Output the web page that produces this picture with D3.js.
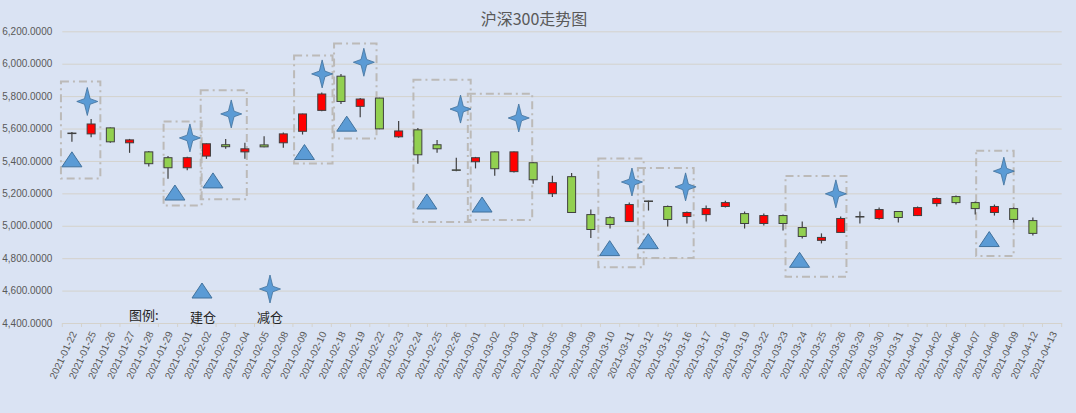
<!DOCTYPE html>
<html><head><meta charset="utf-8">
<script src="https://cdn.jsdelivr.net/npm/d3@7"></script>
<style>html,body{margin:0;padding:0;background:#DAE3F3;}svg{display:block;}</style>
</head><body>
<script>
const dates = ["2021-01-22","2021-01-25","2021-01-26","2021-01-27","2021-01-28","2021-01-29","2021-02-01","2021-02-02","2021-02-03","2021-02-04","2021-02-05","2021-02-08","2021-02-09","2021-02-10","2021-02-18","2021-02-19","2021-02-22","2021-02-23","2021-02-24","2021-02-25","2021-02-26","2021-03-01","2021-03-02","2021-03-03","2021-03-04","2021-03-05","2021-03-08","2021-03-09","2021-03-10","2021-03-11","2021-03-12","2021-03-15","2021-03-16","2021-03-17","2021-03-18","2021-03-19","2021-03-22","2021-03-23","2021-03-24","2021-03-25","2021-03-26","2021-03-29","2021-03-30","2021-03-31","2021-04-01","2021-04-02","2021-04-06","2021-04-07","2021-04-08","2021-04-09","2021-04-12","2021-04-13"];
const openV  = [5572,5567,5604,5512,5456,5420,5358,5430,5500,5456,5499,5512,5583,5712,5923,5737,5788,5549,5592,5500,5345,5395,5456,5334,5389,5198,5303,5069,5050,5026,5153,5119,5057,5069,5119,5075,5014,5063,4989,4910,4959,5057,5045,5088,5063,5137,5180,5143,5082,5106,5032,null];
const closeV = [5570,5628,5518,5530,5383,5358,5420,5506,5488,5475,5487,5567,5690,5813,5767,5782,5598,5585,5438,5475,5343,5420,5352,5456,5284,5266,5082,4977,5008,5131,5151,5039,5082,5106,5143,5014,5063,5014,4934,4928,5045,5056,5100,5051,5112,5168,5143,5106,5119,5039,4953,null];
const highV  = [5579,5659,5606,5536,5462,5430,5426,5508,5536,5512,5552,5575,5692,5823,5936,5788,5790,5647,5604,5530,5420,5425,5458,5458,5392,5309,5325,5100,5058,5143,5155,5125,5088,5125,5155,5088,5075,5069,5026,4953,5057,5088,5112,5090,5119,5174,5186,5149,5131,5112,5051,null];
const lowV   = [5518,5546,5512,5450,5366,5290,5343,5413,5475,5414,5484,5481,5563,5706,5752,5669,5596,5543,5383,5450,5336,5354,5309,5328,5260,5177,5080,4924,4983,5024,5094,4996,5014,5026,5113,4983,5002,4971,4922,4891,4957,5014,5037,5020,5060,5119,5131,5069,5063,5020,4940,null];

// 建仓 markers (position along category index, value)
const buyPos = [0,5.36,7.34,12.1,14.3,18.47,21.34,27.98,29.99,37.86,47.73];
const buyVal = [5410,5205,5280,5455,5630,5150,5131,4862,4905,4790,4918];
// 减仓 markers
const sellPos = [0.80,6.14,8.29,13.02,15.19,20.22,23.25,29.14,31.93,39.75,48.49];
const sellVal = [5767,5542,5690,5937,6009,5720,5665,5270,5240,5197,5337];

// dash-dot annotation boxes (index range, value range)
const boxX0 = [-0.57,4.77,6.70,11.56,13.64,17.77,20.6,27.39,29.45,37.13,47.05];
const boxX1 = [1.48,6.75,9.10,13.56,15.85,20.75,23.95,29.75,32.35,40.30,49.0];
const boxTop = [5890,5644,5837,6050,6124,5901,5815,5415,5356,5307,5463];
const boxBottom = [5292,5125,5163,5384,5538,5024,5036,4744,4801,4686,4813];

const yTicks = [4400,4600,4800,5000,5200,5400,5600,5800,6000,6200];
const title = "沪深300走势图";
const legendLabels = ["图例:", "建仓", "减仓"];

const W = 1076, H = 413;
const svg = d3.select("body").append("svg").attr("width", W).attr("height", H);
svg.append("rect").attr("width", W).attr("height", H).attr("fill", "#DAE3F3");

const x = d3.scaleBand().domain(dates).range([62.3, 1061.7]).padding(0);
const xi = d3.scaleLinear().domain([-0.5, dates.length - 0.5]).range([62.3, 1061.7]);
const y = d3.scaleLinear().domain([4400, 6200]).range([323, 31.3]);

// gridlines + y labels
const yAxis = d3.axisLeft(y).tickValues(yTicks).tickSize(-(1061.7 - 62.3)).tickFormat(d3.format(",.4f")).tickPadding(10);
const gy = svg.append("g").attr("transform", "translate(62.3,0)").call(yAxis);
gy.select(".domain").remove();
gy.selectAll(".tick line").attr("stroke", "#D4D2CC").attr("stroke-width", 1);
gy.selectAll(".tick text").attr("fill", "#595959").attr("font-family", "Liberation Sans, Arial, sans-serif").attr("font-size", 10).attr("x", -10);

// x axis
const xAxis = d3.axisBottom(x).tickSize(0).tickFormat(d => d);
const gx = svg.append("g").attr("transform", "translate(0,323)").call(xAxis);
gx.select(".domain").attr("stroke", "#D4D2CC");
gx.selectAll(".tick text")
  .attr("fill", "#595959").attr("font-family", "Liberation Sans, Arial, sans-serif").attr("font-size", 10)
  .attr("text-anchor", "end").attr("dy", "0.35em").attr("y", 0)
  .attr("transform", "translate(2,9) rotate(-65)");
// tick marks at band boundaries
const bounds = d3.range(dates.length + 1).map(i => xi(i - 0.5));
svg.append("g").selectAll("line").data(bounds).join("line")
  .attr("x1", d => d).attr("x2", d => d).attr("y1", 323).attr("y2", 327)
  .attr("stroke", "#D4D2CC").attr("stroke-width", 1);

// title
svg.append("text").attr("x", 534).attr("y", 25).attr("text-anchor", "middle")
  .attr("font-family", "Noto Sans CJK SC, sans-serif").attr("font-size", 16).attr("fill", "#595959").text(title);

// boxes
const boxes = boxX0.map((d, i) => ({x0: d, x1: boxX1[i], t: boxTop[i], b: boxBottom[i]}));
svg.append("g").selectAll("rect").data(boxes).join("rect")
  .attr("x", d => xi(d.x0)).attr("y", d => y(d.t))
  .attr("width", d => xi(d.x1) - xi(d.x0)).attr("height", d => y(d.b) - y(d.t))
  .attr("fill", "none").attr("stroke", "#BCBAB8").attr("stroke-width", 2)
  .attr("stroke-dasharray", "8,4,2,4");

// candles
const candles = dates.map((d, i) => ({d, o: openV[i], c: closeV[i], h: highV[i], l: lowV[i]})).filter(k => k.o != null);
const bw = 8;
const gc = svg.append("g");
gc.selectAll("line").data(candles).join("line")
  .attr("x1", d => x(d.d) + x.bandwidth() / 2).attr("x2", d => x(d.d) + x.bandwidth() / 2)
  .attr("y1", d => y(d.h)).attr("y2", d => y(d.l))
  .attr("stroke", "#404040").attr("stroke-width", 1.2);
gc.selectAll("rect").data(candles).join("rect")
  .attr("x", d => x(d.d) + x.bandwidth() / 2 - bw / 2)
  .attr("y", d => y(Math.max(d.o, d.c)))
  .attr("width", bw)
  .attr("height", d => Math.max(0.5, Math.abs(y(d.o) - y(d.c))))
  .attr("fill", d => d.c >= d.o ? "#FF0000" : "#92D050")
  .attr("stroke", "#404040").attr("stroke-width", 1);

// marker shapes
function triPath(cx, cy) {
  return `M${cx},${cy - 7.5} L${cx + 10},${cy + 7.5} L${cx - 10},${cy + 7.5} Z`;
}
function starPath(cx, cy) {
  const rx = 10.5, ry = 14, ri = 2.8;
  return `M${cx},${cy - ry} L${cx + ri},${cy - ri} L${cx + rx},${cy} L${cx + ri},${cy + ri} L${cx},${cy + ry} L${cx - ri},${cy + ri} L${cx - rx},${cy} L${cx - ri},${cy - ri} Z`;
}
const gm = svg.append("g");
gm.selectAll("path.tri").data(buyPos.map((p, i) => ({p, v: buyVal[i]}))).join("path").attr("class", "tri")
  .attr("d", d => triPath(xi(d.p), y(d.v)))
  .attr("fill", "#5B9BD5").attr("stroke", "#41719C").attr("stroke-width", 1);
gm.selectAll("path.star").data(sellPos.map((p, i) => ({p, v: sellVal[i]}))).join("path").attr("class", "star")
  .attr("d", d => starPath(xi(d.p), y(d.v)))
  .attr("fill", "#5B9BD5").attr("stroke", "#41719C").attr("stroke-width", 0.8);

// legend
const lg = svg.append("g");
lg.append("path").attr("d", triPath(202, 290.5)).attr("fill", "#5B9BD5").attr("stroke", "#41719C");
lg.append("path").attr("d", starPath(270, 289)).attr("fill", "#5B9BD5").attr("stroke", "#41719C").attr("stroke-width", 0.8);
const lx = [129, 190, 257];
lg.selectAll("text").data(legendLabels).join("text")
  .attr("x", (d, i) => lx[i]).attr("y", (d, i) => i === 0 ? 320 : 322)
  .attr("font-family", "Noto Sans CJK SC, sans-serif").attr("font-size", 13).attr("fill", "#262626")
  .text(d => d);
</script>
</body></html>
